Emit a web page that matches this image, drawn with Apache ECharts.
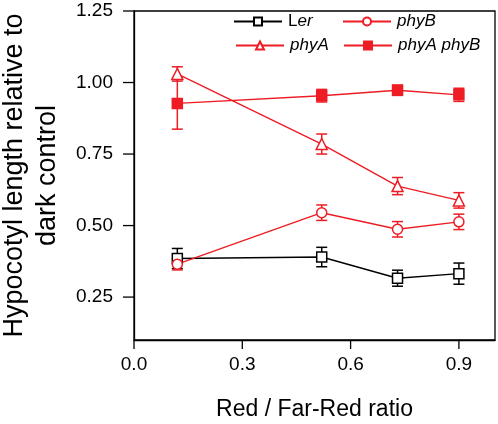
<!DOCTYPE html>
<html>
<head>
<meta charset="utf-8">
<script src="https://cdn.jsdelivr.net/npm/echarts@6/dist/echarts.min.js"></script>
<style>html,body{margin:0;padding:0;background:#fff;}#c{width:498px;height:424px;}</style>
</head>
<body>
<div id="c"></div>
<script>
const xValues = [0.12, 0.52, 0.73, 0.90];
const lerMean = [0.385, 0.390, 0.316, 0.332];
const lerErr = [0.035, 0.034, 0.028, 0.037];
const phyBMean = [0.365, 0.545, 0.487, 0.513];
const phyBErr = [0.020, 0.027, 0.027, 0.027];
const phyAMean = [1.030, 0.785, 0.638, 0.588];
const phyAErr = [0.025, 0.035, 0.030, 0.027];
const phyABMean = [0.927, 0.954, 0.973, 0.957];
const phyABErr = [0.090, 0.022, 0.018, 0.023];
const xTicks = [0, 0.3, 0.6, 0.9];
const yTicks = [0.25, 0.5, 0.75, 1.0, 1.25];

const RED = '#ee1c24';
const BLACK = '#000000';
const FONT = '"Liberation Sans", Arial, sans-serif';
const X_MIN = 0, X_MAX = 1, Y_MIN = 0.1, Y_MAX = 1.25;

function pts(mean) { return xValues.map((x, i) => [x, mean[i]]); }
function errData(mean, err) { return xValues.map((x, i) => [x, mean[i] - err[i], mean[i] + err[i]]); }
function errSeries(name, mean, err, color) {
  return {
    type: 'custom', name: name + '_err', z: 1, silent: true,
    data: errData(mean, err),
    renderItem: function (params, api) {
      const x = api.value(0);
      const lo = api.coord([x, api.value(1)]);
      const hi = api.coord([x, api.value(2)]);
      const w = 5.5;
      const st = { stroke: color, lineWidth: 1.5 };
      return {
        type: 'group', children: [
          { type: 'line', shape: { x1: lo[0], y1: lo[1], x2: hi[0], y2: hi[1] }, style: st },
          { type: 'line', shape: { x1: lo[0] - w, y1: lo[1], x2: lo[0] + w, y2: lo[1] }, style: st },
          { type: 'line', shape: { x1: hi[0] - w, y1: hi[1], x2: hi[0] + w, y2: hi[1] }, style: st }
        ]
      };
    }
  };
}
function lineSeries(name, mean, color, symbol, size, filled) {
  return {
    type: 'line', name: name, z: 3, data: pts(mean),
    symbol: symbol, symbolSize: size, showSymbol: true,
    lineStyle: { color: color, width: 1.4 },
    itemStyle: { color: filled ? color : '#ffffff', borderColor: color, borderWidth: 1.5 },
    emphasis: { disabled: true }
  };
}
function legendAt(name, left, top, fmt) {
  return {
    data: [name], left: left, top: top, padding: 0,
    itemWidth: 48, itemHeight: 10, itemGap: 0,
    selectedMode: false,
    textStyle: {
      fontFamily: FONT, fontSize: 17, color: '#000', padding: [0, 0, 0, 1],
      rich: {
        n: { fontFamily: FONT, fontSize: 17, fontStyle: 'normal', color: '#000' },
        i: { fontFamily: FONT, fontSize: 17, fontStyle: 'italic', color: '#000' }
      }
    },
    formatter: fmt
  };
}

const chart = echarts.init(document.getElementById('c'), null, { renderer: 'canvas' });
chart.setOption({
  animation: false,
  backgroundColor: '#ffffff',
  grid: { left: 134, right: 3, top: 11, bottom: 84, containLabel: false, outerBoundsMode: 'none',
    show: true, borderColor: BLACK, borderWidth: 1.3, backgroundColor: 'transparent' },
  legend: [
    legendAt('Ler', 233, 13, function () { return '{n|L}{i|er}'; }),
    legendAt('phyB', 342, 13, function () { return '{i|phyB}'; }),
    legendAt('phyA', 235, 37, function () { return '{i|phyA}'; }),
    legendAt('phyA phyB', 343, 37, function () { return '{i|phyA phyB}'; })
  ],
  xAxis: {
    type: 'value', min: X_MIN, max: X_MAX,
    name: 'Red / Far-Red ratio', nameLocation: 'middle', nameGap: 58,
    nameTextStyle: { fontFamily: FONT, fontSize: 23, color: '#000' },
    axisLine: { show: true, lineStyle: { color: BLACK, width: 1.3 } },
    axisTick: { show: false },
    axisLabel: { show: true, customValues: xTicks, margin: 15, fontFamily: FONT, fontSize: 19, color: '#000',
      formatter: function (v) { return v.toFixed(1); } },
    splitLine: { show: false }
  },
  yAxis: {
    type: 'value', min: Y_MIN, max: Y_MAX,
    name: 'Hypocotyl length relative to\ndark control', nameLocation: 'middle', nameGap: 70,
    nameTextStyle: { fontFamily: FONT, fontSize: 27, lineHeight: 33, color: '#000' },
    axisLine: { show: true, lineStyle: { color: BLACK, width: 1.3 } },
    axisTick: { show: false },
    axisLabel: { show: true, customValues: yTicks, margin: 21, fontFamily: FONT, fontSize: 19, color: '#000',
      formatter: function (v) { return v.toFixed(2); } },
    splitLine: { show: false }
  },
  series: [
    errSeries('Ler', lerMean, lerErr, BLACK),
    errSeries('phyB', phyBMean, phyBErr, RED),
    errSeries('phyA', phyAMean, phyAErr, RED),
    errSeries('phyA phyB', phyABMean, phyABErr, RED),
    lineSeries('Ler', lerMean, BLACK, 'rect', 10, false),
    lineSeries('phyB', phyBMean, RED, 'circle', 10, false),
    lineSeries('phyA', phyAMean, RED, 'triangle', 11, false),
    lineSeries('phyA phyB', phyABMean, RED, 'rect', 10, true)
  ]
});

// outward tick marks, positioned through the chart's own axis scales
const tickStyle = { stroke: BLACK, lineWidth: 1.3 };
const tickEls = [];
xTicks.forEach(function (v) {
  const p = chart.convertToPixel({ gridIndex: 0 }, [v, Y_MIN]);
  tickEls.push({ type: 'line', z: 10, silent: true, shape: { x1: p[0], y1: p[1], x2: p[0], y2: p[1] + 9 }, style: tickStyle });
});
yTicks.forEach(function (v) {
  const p = chart.convertToPixel({ gridIndex: 0 }, [X_MIN, v]);
  tickEls.push({ type: 'line', z: 10, silent: true, shape: { x1: p[0] - 11, y1: p[1], x2: p[0], y2: p[1] }, style: tickStyle });
});
chart.setOption({ graphic: { elements: tickEls } });
</script>
</body>
</html>
